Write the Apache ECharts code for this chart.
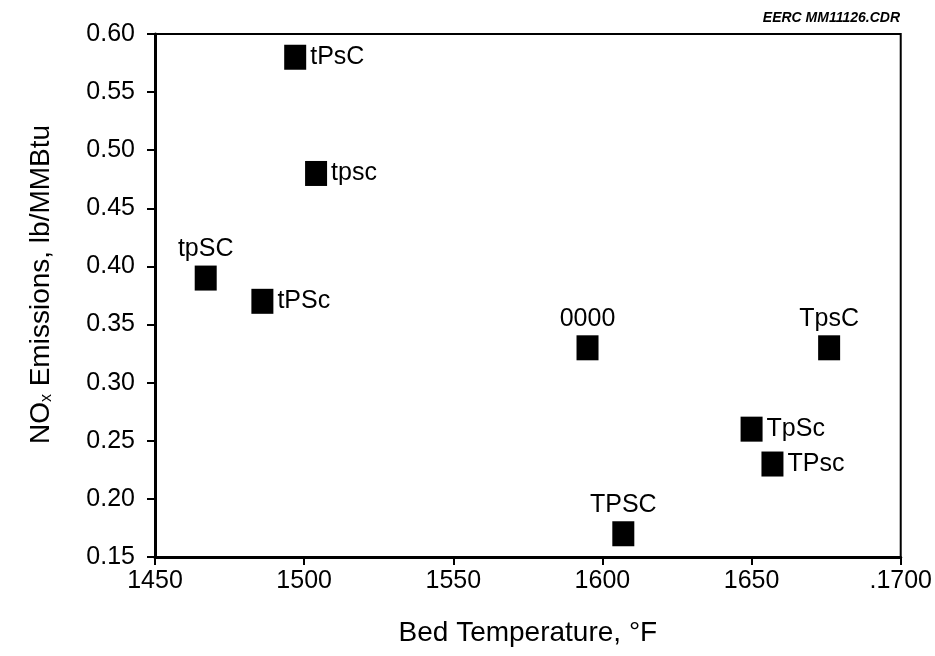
<!DOCTYPE html>
<html>
<head>
<meta charset="utf-8">
<script src="https://cdn.jsdelivr.net/npm/echarts@6/dist/echarts.min.js"></script>
<style>
  html, body { margin: 0; padding: 0; background: #fff; }
  #chart { width: 935px; height: 656px; }
</style>
</head>
<body>
<div id="chart"></div>
<script>
// operating condition codes and measured values
const runNames = ["tPsC", "tpsc", "tpSC", "tPSc", "0000", "TpsC", "TpSc", "TPsc", "TPSC"];
const bedTemp = [1497, 1504, 1467, 1486, 1595, 1676, 1650, 1657, 1607];
const noxValues = [0.58, 0.48, 0.39, 0.37, 0.33, 0.33, 0.26, 0.23, 0.17];
const labelSide = ["right", "right", "top", "right", "top", "top", "right", "right", "top"];
const xTickLabels = ["1450", "1500", "1550", "1600", "1650", ".1700"];

const chart = echarts.init(document.getElementById("chart"));

const font = "Liberation Sans, Arial, sans-serif";

chart.setOption({
    backgroundColor: "#fff",
    animation: false,
    title: {
        text: "EERC MM11126.CDR",
        right: 30,
        top: 6,
        textStyle: { fontSize: 14, fontStyle: "italic", fontWeight: "bold", fontFamily: font, color: "#000" }
    },
    grid: {
        left: 155, right: 34, top: 34, bottom: 99,
        show: true, borderColor: "#000", borderWidth: 2
    },
    xAxis: {
        type: "value",
        min: 1450, max: 1700, interval: 50,
        name: "Bed Temperature, °F",
        nameLocation: "middle",
        nameGap: 62,
        nameTextStyle: { fontSize: 28, fontFamily: font, color: "#000" },
        axisLine: { lineStyle: { color: "#000", width: 3 } },
        axisTick: { length: 8, lineStyle: { color: "#000", width: 2 } },
        axisLabel: {
            fontSize: 25, fontFamily: font, color: "#000", margin: 12,
            formatter: v => xTickLabels[Math.round((v - 1450) / 50)]
        },
        splitLine: { show: false }
    },
    yAxis: {
        type: "value",
        min: 0.15, max: 0.60, interval: 0.05,
        name: "NO{sub|x} Emissions, lb/MMBtu",
        nameLocation: "middle",
        nameGap: 100,
        nameTextStyle: {
            fontSize: 28, fontFamily: font, color: "#000",
            padding: [0, 0, 0, 22],
            rich: { sub: { fontSize: 16, fontFamily: font, color: "#000", padding: [12, 0, 0, 0] } }
        },
        axisLine: { lineStyle: { color: "#000", width: 3 } },
        axisTick: { length: 8, lineStyle: { color: "#000", width: 2 } },
        axisLabel: {
            fontSize: 25, fontFamily: font, color: "#000", margin: 20,
            formatter: v => v.toFixed(2)
        },
        splitLine: { show: false }
    },
    series: [{
        type: "scatter",
        symbol: "rect",
        symbolSize: [22, 25],
        itemStyle: { color: "#000", opacity: 1 },
        data: bedTemp.map((t, i) => ({
            value: [t, noxValues[i]],
            label: {
                show: true,
                formatter: runNames[i],
                position: labelSide[i],
                distance: 4,
                fontSize: 25, fontFamily: font, color: "#000"
            }
        }))
    }]
});
</script>
</body>
</html>
